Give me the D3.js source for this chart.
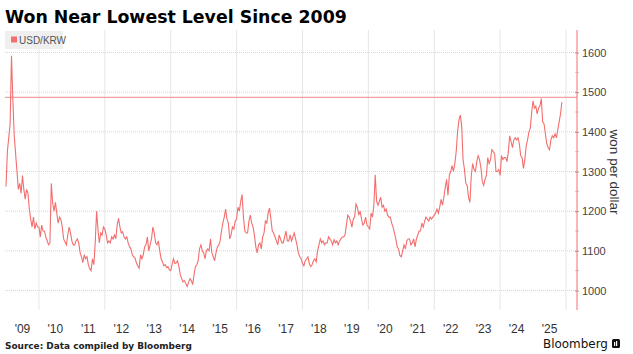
<!DOCTYPE html>
<html>
<head>
<meta charset="utf-8">
<script src="https://cdn.jsdelivr.net/npm/d3@7"></script>
<style>
  html, body { margin: 0; padding: 0; background: #fff; }
  svg { display: block; font-family: "Liberation Sans", Arial, sans-serif; }
</style>
</head>
<body>
<div id="chart"></div>
<script>
// ---- DATA (USD/KRW, semi-monthly readings starting Jan 2009) ----
const startYear = 2009;
const pointsPerYear = 24;
const v2009 = [1262,1350,1385,1420,1592,1480,1390,1345,1300,1255,1270,1245,1290,1255,1230,1255,1245,1205,1180,1160,1185,1155,1170,1160];
const v2010 = [1160,1135,1165,1150,1150,1135,1125,1115,1120,1270,1220,1200,1222,1195,1170,1185,1180,1160,1130,1122,1115,1140,1160,1145];
const v2011 = [1125,1115,1115,1125,1130,1120,1095,1085,1070,1090,1080,1085,1065,1055,1050,1080,1065,1120,1200,1155,1120,1145,1140,1160];
const v2012 = [1155,1140,1120,1125,1120,1135,1130,1140,1130,1165,1182,1160,1145,1148,1135,1130,1135,1120,1110,1105,1090,1085,1082,1070];
const v2013 = [1062,1056,1090,1080,1090,1110,1115,1135,1100,1115,1130,1160,1145,1120,1115,1125,1100,1080,1072,1062,1065,1058,1060,1052];
const v2014 = [1050,1065,1080,1068,1070,1075,1060,1040,1030,1022,1025,1018,1010,1020,1030,1025,1015,1040,1060,1065,1075,1105,1115,1100];
const v2015 = [1095,1080,1100,1105,1100,1130,1095,1085,1075,1095,1110,1115,1125,1150,1170,1185,1205,1180,1170,1130,1140,1160,1155,1175];
const v2016 = [1180,1210,1200,1225,1242,1185,1150,1145,1145,1175,1190,1170,1160,1140,1110,1095,1115,1120,1105,1135,1145,1175,1170,1195];
const v2017 = [1208,1180,1150,1145,1135,1125,1115,1140,1130,1120,1120,1135,1150,1125,1125,1140,1125,1135,1145,1130,1115,1095,1085,1080];
const v2018 = [1068,1062,1075,1080,1085,1068,1060,1065,1075,1080,1072,1100,1115,1130,1120,1125,1115,1120,1120,1135,1130,1125,1115,1128];
const v2019 = [1120,1125,1115,1125,1130,1135,1135,1140,1165,1190,1185,1175,1160,1180,1185,1218,1210,1190,1200,1180,1165,1170,1185,1165];
const v2020 = [1160,1155,1195,1185,1215,1292,1225,1215,1225,1235,1210,1215,1200,1205,1190,1185,1185,1170,1160,1145,1130,1110,1105,1088];
const v2021 = [1085,1100,1115,1105,1125,1130,1130,1115,1120,1130,1110,1130,1140,1150,1150,1170,1160,1175,1185,1180,1175,1185,1180,1185];
const v2022 = [1190,1195,1205,1195,1210,1230,1215,1235,1260,1280,1240,1290,1300,1315,1300,1320,1350,1400,1430,1442,1415,1330,1305,1270];
const v2023 = [1265,1235,1222,1290,1320,1305,1300,1325,1340,1330,1310,1275,1265,1280,1290,1335,1320,1330,1355,1350,1345,1300,1300,1305];
const v2024 = [1290,1340,1330,1335,1335,1325,1350,1390,1375,1360,1380,1385,1380,1385,1370,1340,1335,1308,1330,1365,1380,1400,1410,1450];
const v2025 = [1478,1460,1465,1445,1460,1465,1484,1425,1420,1395,1370,1360,1355,1380,1390,1385,1395,1385,1405,1425,1445,1475];
const series = [].concat(v2009,v2010,v2011,v2012,v2013,v2014,v2015,v2016,v2017,v2018,v2019,v2020,v2021,v2022,v2023,v2024,v2025);
const referenceLevel = 1487;
const yTicks = [1000,1100,1200,1300,1400,1500,1600];
const yMinorTicks = [1050,1150,1250,1350,1450,1550];
const xLabelYears = d3.range(2009, 2026);
const xGridYears = d3.range(2010, 2027, 2);
const title = "Won Near Lowest Level Since 2009";
const source = "Source: Data compiled by Bloomberg";
const legendLabel = "USD/KRW";
const yTitle = "won per dollar";

// ---- DRAW ----
const W = 633, H = 354;
const red = "#f36e6e";
const svg = d3.select("#chart").append("svg").attr("width", W).attr("height", H);

const plotTop = 30, plotBottom = 310, plotLeft = 5, plotRight = 577;
const x = d3.scaleLinear().domain([2009, 2026]).range([6, 566]);
const y = d3.scaleLinear().domain([1000, 1600]).range([290.5, 52.5]);

function fitWidth(sel, target) {
  const w = sel.node().getComputedTextLength();
  const fs = parseFloat(sel.attr("font-size"));
  sel.attr("font-size", (fs * target / w).toFixed(2));
}

// title
const t = svg.append("text").attr("x", 5).attr("y", 23)
  .attr("font-family", "'DejaVu Sans', sans-serif")
  .attr("font-size", 17).attr("font-weight", "bold").attr("fill", "#000")
  .text(title);
fitWidth(t, 342);

// horizontal dotted gridlines
svg.append("g").selectAll("line").data(yTicks).join("line")
  .attr("x1", plotLeft).attr("x2", plotRight)
  .attr("y1", d => y(d)).attr("y2", d => y(d))
  .attr("stroke", "#d6d6d6").attr("stroke-width", 1)
  .attr("stroke-dasharray", "1,1");

// vertical gridlines
svg.append("g").selectAll("line").data(xGridYears).join("line")
  .attr("x1", d => x(d)).attr("x2", d => x(d))
  .attr("y1", plotTop).attr("y2", plotBottom)
  .attr("stroke", "#e6e6e6").attr("stroke-width", 1);

// legend
const lg = svg.append("g");
lg.append("rect").attr("x", 5).attr("y", 31).attr("width", 58).attr("height", 18).attr("fill", "#efefef");
lg.append("rect").attr("x", 11).attr("y", 36.5).attr("width", 6).attr("height", 6).attr("fill", red);
lg.append("text").attr("x", 19).attr("y", 43.5).attr("font-size", 10).attr("fill", "#555").text(legendLabel);

// reference line
svg.append("line")
  .attr("x1", plotLeft).attr("x2", plotRight)
  .attr("y1", y(referenceLevel)).attr("y2", y(referenceLevel))
  .attr("stroke", "#f4a0a0").attr("stroke-width", 1.2);

// series line
const line = d3.line()
  .x((d, i) => x(startYear + i / pointsPerYear))
  .y(d => y(d));
svg.append("path").datum(series)
  .attr("d", line)
  .attr("fill", "none").attr("stroke", red).attr("stroke-width", 1.1)
  .attr("stroke-linejoin", "miter");

// right axis
const axis = d3.axisRight(y).tickValues(yTicks).tickSize(2).tickPadding(3).tickFormat(d3.format("d"));
const ag = svg.append("g").attr("transform", `translate(${plotRight},0)`).call(axis);
ag.select(".domain").remove();
ag.selectAll(".tick line").attr("stroke", "#999").attr("x1", -2);
ag.selectAll(".tick text").attr("font-size", 11).attr("fill", "#444")
  .attr("font-family", "'Liberation Sans', Arial, sans-serif");
ag.append("g").selectAll("line").data(yMinorTicks).join("line")
  .attr("x1", -2).attr("x2", 2).attr("y1", d => y(d)).attr("y2", d => y(d))
  .attr("stroke", "#ccc");
ag.append("line").attr("x1", 0).attr("x2", 0).attr("y1", plotTop).attr("y2", plotBottom)
  .attr("stroke", red).attr("stroke-width", 1);

// y title
svg.append("text")
  .attr("transform", `translate(610,172) rotate(90)`)
  .attr("text-anchor", "middle")
  .attr("font-size", 13.5).attr("fill", "#333")
  .text(yTitle);

// x labels
svg.append("g").selectAll("text").data(xLabelYears).join("text")
  .attr("x", d => x(d + 0.5)).attr("y", 333)
  .attr("text-anchor", "middle").attr("font-size", 12).attr("fill", "#333")
  .text(d => "'" + String(d).slice(2));

// source
const s = svg.append("text").attr("x", 5).attr("y", 349)
  .attr("font-family", "'DejaVu Sans', sans-serif")
  .attr("font-size", 9.5).attr("font-weight", "bold").attr("fill", "#222")
  .text(source);
fitWidth(s, 187);

// Bloomberg logo
const b = svg.append("text").attr("x", 543).attr("y", 348)
  .attr("font-family", "'DejaVu Sans', sans-serif")
  .attr("font-size", 12).attr("font-weight", "normal").attr("fill", "#111")
  .text("Bloomberg");
fitWidth(b, 65);
const logo = svg.append("g").attr("transform", "translate(612,339)");
logo.append("rect").attr("width", 8).attr("height", 9).attr("rx", 1.5).attr("fill", "#111");
logo.append("rect").attr("x", 2).attr("y", 3).attr("width", 1.2).attr("height", 4).attr("fill", "#fff");
logo.append("rect").attr("x", 4).attr("y", 2).attr("width", 1.2).attr("height", 5).attr("fill", "#fff");
</script>
</body>
</html>
